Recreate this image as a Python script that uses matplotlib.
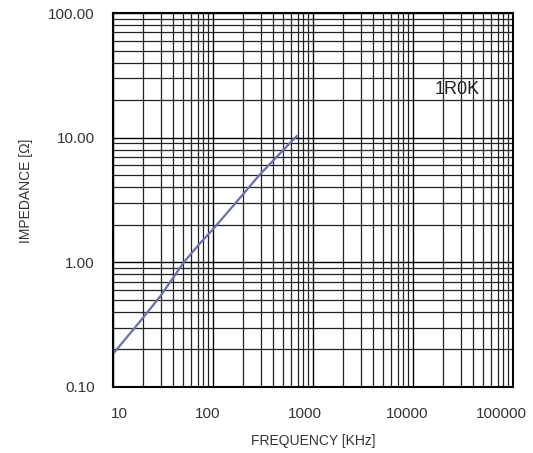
import matplotlib.pyplot as plt
from matplotlib.ticker import LogLocator, FixedLocator, NullFormatter

plt.rcParams['font.family'] = ['Liberation Sans', 'DejaVu Sans']

# impedance curve
freq_khz = [10, 20, 30, 51, 74, 100, 200, 290, 500, 687]
impedance = [0.184, 0.36, 0.54, 1.0, 1.42, 1.84, 3.52, 5.0, 7.9, 10.3]

x_ticks = [10, 100, 1000, 10000, 100000]
x_labels = ['10', '100', '1000', '10000', '100000']
y_ticks = [0.1, 1, 10, 100]
y_labels = ['0.10', '1.00', '10.00', '100.00']

part_name = '1R0K'

fig = plt.figure(figsize=(5.33, 4.53), dpi=100)
ax = fig.add_axes([113 / 533, 1 - 387 / 453, 400 / 533, 374 / 453])

ax.set_xscale('log')
ax.set_yscale('log')
ax.set_xlim(10, 100000)
ax.set_ylim(0.1, 100)

ax.xaxis.set_major_locator(FixedLocator(x_ticks))
ax.yaxis.set_major_locator(FixedLocator(y_ticks))
ax.xaxis.set_minor_locator(LogLocator(base=10, subs=range(2, 10), numticks=20))
ax.yaxis.set_minor_locator(LogLocator(base=10, subs=range(2, 10), numticks=20))
ax.xaxis.set_minor_formatter(NullFormatter())
ax.yaxis.set_minor_formatter(NullFormatter())
ax.set_xticklabels([])
ax.set_yticklabels(y_labels)

ax.grid(which='major', color='black', linewidth=1.0)
ax.grid(which='minor', color='#222222', linewidth=0.9)
ax.tick_params(which='both', length=0)
ax.tick_params(axis='y', pad=13, labelsize=11, colors='#333333')

# the x tick labels in the original sit a little off their grid lines
x_shift_pt = [4.3, -4, -6, -4.3, -8.6]
for t, lab, dx in zip(x_ticks, x_labels, x_shift_pt):
    ax.annotate(lab, xy=(t, 0), xycoords=('data', 'axes fraction'),
                xytext=(dx, -14.5), textcoords='offset points',
                ha='center', va='top', fontsize=11, color='#333333',
                annotation_clip=False)

for sp in ax.spines.values():
    sp.set_linewidth(1.5)
    sp.set_color('black')

ax.plot(freq_khz, impedance, color='#6b6fae', linewidth=1.6)

ax.text(27500, 24.5, part_name, ha='center', va='center', fontsize=13, color='#222222')

ax.set_xlabel('FREQUENCY [KHz]', fontsize=10, color='#333333')
ax.xaxis.set_label_coords(0.5, -0.125)
ax.set_ylabel('IMPEDANCE [Ω]', fontsize=10, color='#333333')
ax.yaxis.set_label_coords(-0.20, 0.524)

fig.savefig('out.png', dpi=100)
